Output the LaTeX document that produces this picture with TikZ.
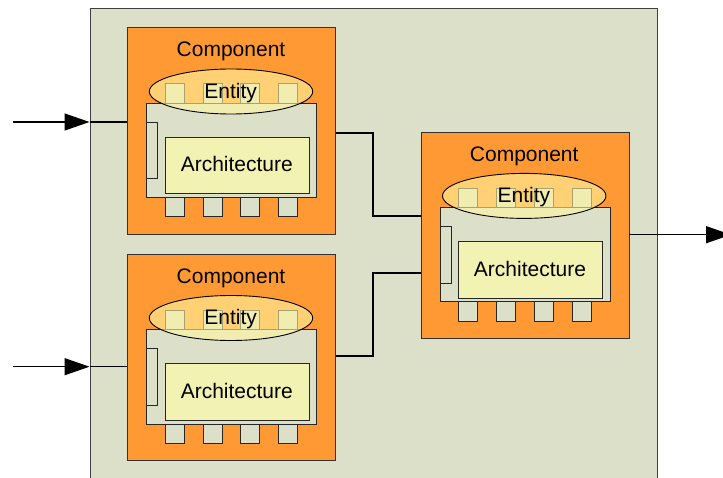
\documentclass[tikz,border=0pt]{standalone}
\usepackage{fontspec}
\newfontfamily\arialf{Liberation Sans}
\usetikzlibrary{arrows.meta,shapes.geometric}
\definecolor{bgc}{RGB}{221,224,200}
\definecolor{orng}{RGB}{255,153,51}
\definecolor{archc}{RGB}{242,242,178}
\definecolor{entc}{RGB}{255,246,160}
\tikzset{
  lbl/.style={font=\arialf\fontsize{21}{25}\selectfont, inner sep=0, text=black},
  compbox/.style={draw=black!80, line width=0.9pt, fill=orng, minimum width=208pt, minimum height=206.5pt, anchor=north west, inner sep=0},
  chipbox/.style={draw=black!85, line width=0.8pt, fill=bgc, minimum width=170pt, minimum height=94.3pt, anchor=north west, inner sep=0},
  pinbox/.style={draw=black!85, line width=0.8pt, fill=bgc, minimum width=19pt, minimum height=19.2pt, anchor=north west, inner sep=0},
  tabbox/.style={draw=black!85, line width=0.8pt, fill=bgc, minimum width=11pt, minimum height=56.6pt, anchor=north west, inner sep=0},
  archbox/.style={draw=black!85, line width=0.8pt, fill=archc, minimum width=143.7pt, minimum height=56.6pt, anchor=north west, inner sep=0},
  entell/.style={ellipse, draw=black, line width=0.9pt, fill=entc, fill opacity=0.6, draw opacity=1, minimum width=163.4pt, minimum height=45pt, inner sep=0},
  conn/.style={draw=black, line width=1.4pt},
  arr/.style={draw=black, line width=1.3pt, -{Triangle[length=25pt,width=17pt]}}
}
\newcommand{\drawcomp}[3]{%
  \begin{scope}[shift={(#2,#3)}]
    \node[compbox] (#1) at (0,0) {};
    \node[lbl, anchor=base] (#1-lbl) at (103.7,29.4) {Component};
    \foreach \px [count=\k] in {37.7,75.4,113,151} {
      \node[pinbox] (#1-b\k) at (\px,169.7) {};
    }
    \node[chipbox] (#1-chip) at (19,75.4) {};
    \foreach \px [count=\k] in {37.7,75.4,113,151} {
      \node[pinbox] (#1-t\k) at (\px,56.2) {};
    }
    \node[entell] (#1-ent) at (103.7,64.2) {};
    \node[lbl, anchor=base] (#1-enttxt) at (103.4,71) {Entity};
    \node[tabbox] (#1-tab) at (19,94.4) {};
    \node[archbox] (#1-arch) at (37.7,109.4) {};
    \node[lbl, anchor=base] (#1-archtxt) at (109.5,144.4) {Architecture};
  \end{scope}}
\begin{document}
\begin{tikzpicture}[x=1pt,y=-1pt]
  \useasboundingbox (0,0) rectangle (723,478);
  \clip (0,0) rectangle (723,478);
  \fill[white] (0,0) rectangle (723,478);
  \node[draw=black!75, line width=0.9pt, fill=bgc, minimum width=567pt, minimum height=490pt, anchor=north west, inner sep=0] (outer) at (89.5,7.7) {};
  \drawcomp{c1}{127.3}{27.3}
  \drawcomp{c2}{127.3}{253.8}
  \drawcomp{c3}{420.5}{131.7}
  % inputs
  \coordinate (in1) at (13,122);
  \coordinate (in2) at (13,366.7);
  \draw[arr] (in1) -- (outer.west |- in1);
  \draw[conn, line width=1.3pt] (outer.west |- in1) -- (c1.west |- in1);
  \draw[arr] (in2) -- (outer.west |- in2);
  \draw[conn, line width=1.3pt] (outer.west |- in2) -- (c2.west |- in2);
  % internal connectors
  \coordinate (k1) at (373,133);
  \coordinate (k2) at (373,216);
  \coordinate (k3) at (373,356);
  \coordinate (k4) at (373,273);
  \draw[conn] (c1.east |- k1) -- (k1) -- (k2) -- (c3.west |- k2);
  \draw[conn] (c2.east |- k3) -- (k3) -- (k4) -- (c3.west |- k4);
  % output
  \coordinate (out) at (731,234.7);
  \draw[arr] (c3.east |- out) -- (out);
\end{tikzpicture}
\end{document}
